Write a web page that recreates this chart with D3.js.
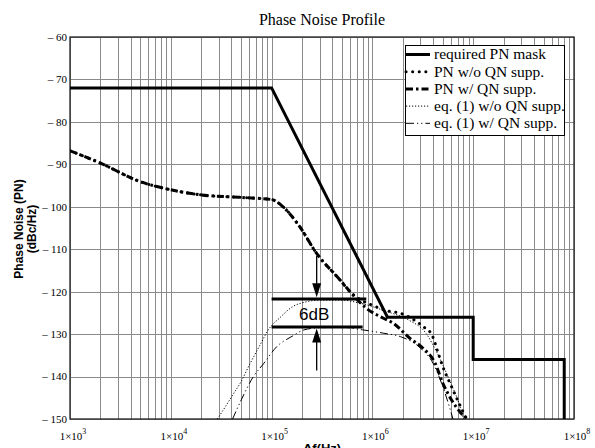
<!DOCTYPE html>
<html>
<head>
<meta charset="utf-8">
<script src="https://cdn.jsdelivr.net/npm/d3@7"></script>
<style>
  body { margin: 0; background: #fff; }
  svg { display: block; }
</style>
</head>
<body>
<div id="chart"></div>
<script>
// data (frequency in Hz, phase noise in dBc/Hz)
const maskF  = [1e3, 1e5, 1.41e6, 1e7, 1e7, 8e7, 8e7];
const maskPN = [-72, -72, -126, -126, -136, -136, -150];

const pnWoF  = [1e3, 2e3, 5e3, 1e4, 2e4, 5e4, 1e5, 1.3e5, 1.9e5, 2.8e5, 4.8e5, 6e5, 7.5e5, 1e6, 1.4e6, 1.9e6, 2.6e6, 3.3e6, 3.9e6, 4.5e6, 5e6, 6.1e6, 7.1e6, 8.6e6];
const pnWoPN = [-86.8, -89.7, -94.1, -96, -97.2, -97.8, -98.3, -100, -104.7, -111, -117.3, -120, -121.8, -123.2, -124.5, -125.1, -126.7, -128.5, -130.2, -134.5, -137.7, -142.4, -145.9, -150];

const pnWF  = [1e3, 2e3, 5e3, 1e4, 2e4, 5e4, 1e5, 1.3e5, 1.9e5, 2.8e5, 4.8e5, 6e5, 8.7e5, 1.27e6, 1.6e6, 2.36e6, 3.2e6, 4.2e6, 5e6, 6.1e6, 7.5e6, 8.8e6];
const pnWPN = [-86.8, -89.7, -94.1, -96, -97.2, -97.8, -98.3, -100, -104.7, -111, -117.3, -120, -123.9, -126.2, -127.4, -131, -133.4, -136.9, -141.6, -145.5, -148.5, -150];

const eqWoF  = [2.9e4, 3.5e4, 4.2e4, 4.9e4, 6.1e4, 7.5e4, 9.6e4, 1.2e5, 1.6e5, 2.2e5, 3e5, 5e5, 7.5e5, 1.4e6, 2.3e6, 3.4e6, 4.4e6, 5.8e6, 7.4e6, 8e6];
const eqWoPN = [-150, -147, -144, -141.5, -137, -133, -128.5, -126.2, -123.6, -122.4, -122, -122, -122.7, -124.7, -126.7, -129.8, -134.5, -140.8, -147.1, -150];

const eqWF  = [4.1e4, 5e4, 6.6e4, 8.3e4, 1.12e5, 1.6e5, 2.1e5, 3e5, 5e5, 8e5, 1.3e6, 1.9e6, 2.9e6, 4e6, 5e6, 5.8e6, 6.3e6];
const eqWPN = [-150, -145.5, -140, -137, -133, -130.5, -129, -128.5, -128.4, -129, -129.8, -130.6, -133, -136.9, -142.4, -147.1, -150];

// 6 dB annotation
const bracketF  = [1e5, 8.7e5, 8e5];     // start, end upper, end lower
const bracketPN = [-121.7, -128.3];
const arrowF = 2.8e5;
const arrowTailPN = [-111.6, -138.6];

const legendLabels = ["required PN mask", "PN w/o QN supp.", "PN w/ QN supp.", "eq. (1) w/o QN supp.", "eq. (1) w/ QN supp."];
const yTicks = [-60, -70, -80, -90, -100, -110, -120, -130, -140, -150];
const xExponents = [3, 4, 5, 6, 7, 8];

function drawChart() {
    const W = 595, H = 448;
    const left = 70, right = 574, top = 37, bottom = 419;
    const serif = "'Liberation Serif', 'Times New Roman', serif";
    const sans = "'Liberation Sans', Arial, sans-serif";

    let svg = d3.select("#chart").append("svg")
        .attr("width", W).attr("height", H);

    let x = d3.scaleLog().domain([1e3, 1e8]).range([left, right]);
    let y = d3.scaleLinear().domain([-150, -60]).range([bottom, top]);

    // grid
    let grid = svg.append("g").attr("stroke", "#8a8a8a").attr("stroke-width", 1);
    let vlines = [];
    for (let e = 3; e < 8; e++) for (let m = 1; m < 10; m++) vlines.push(m * Math.pow(10, e));
    vlines.push(1e8);
    grid.selectAll("line.v").data(vlines).enter().append("line")
        .attr("x1", d => Math.round(x(d)) + 0.5).attr("x2", d => Math.round(x(d)) + 0.5)
        .attr("y1", top).attr("y2", bottom);
    grid.selectAll("line.h").data(yTicks).enter().append("line")
        .attr("y1", d => Math.round(y(d)) + 0.5).attr("y2", d => Math.round(y(d)) + 0.5)
        .attr("x1", left).attr("x2", right);

    svg.append("rect")
        .attr("x", left).attr("y", top)
        .attr("width", right - left).attr("height", bottom - top)
        .attr("fill", "none").attr("stroke", "#222").attr("stroke-width", 1.3);

    // tick labels
    svg.append("g").selectAll("text").data(yTicks).enter().append("text")
        .attr("x", left - 3).attr("y", d => y(d))
        .attr("dy", "0.35em")
        .attr("text-anchor", "end")
        .style("font-family", serif).style("font-size", "11px")
        .text(d => "\u2013 " + Math.abs(d));

    let xl = svg.append("g").selectAll("text").data(xExponents).enter().append("text")
        .attr("x", d => x(Math.pow(10, d)) + 3).attr("y", 440)
        .attr("text-anchor", "middle")
        .style("font-family", serif).style("font-size", "11px");
    xl.append("tspan").text("1\u00d710");
    xl.append("tspan").attr("dy", -6).style("font-size", "8px").text(d => d);

    // titles
    svg.append("text").attr("x", 322).attr("y", 25).attr("text-anchor", "middle")
        .style("font-family", serif).style("font-size", "16px")
        .text("Phase Noise Profile");
    svg.append("text").attr("x", 322).attr("y", 453).attr("text-anchor", "middle")
        .style("font-family", sans).style("font-size", "13px").style("font-weight", "bold")
        .text("\u0394f(Hz)");
    let yl = svg.append("text")
        .attr("transform", "translate(23,229) rotate(-90)")
        .attr("text-anchor", "middle")
        .style("font-family", sans).style("font-size", "12px").style("font-weight", "bold");
    yl.append("tspan").attr("x", 0).attr("y", 0).text("Phase Noise (PN)");
    yl.append("tspan").attr("x", 0).attr("y", 13).text("(dBc/Hz)");

    // clip
    svg.append("clipPath").attr("id", "plotclip").append("rect")
        .attr("x", left).attr("y", top).attr("width", right - left).attr("height", bottom - top);
    let plot = svg.append("g").attr("clip-path", "url(#plotclip)");

    const styles = [
        {w: 3, dash: null, cap: "butt"},
        {w: 3, dash: "0.1,6.5", cap: "round"},
        {w: 3, dash: "7,3,2.5,3", cap: "butt"},
        {w: 1, dash: "1.2,1.8", cap: "butt"},
        {w: 1, dash: "8,3,1.2,3,1.2,3", cap: "butt"}
    ];

    let series = [
        {f: eqWoF, pn: eqWoPN, s: styles[3], curve: d3.curveMonotoneX},
        {f: eqWF, pn: eqWPN, s: styles[4], curve: d3.curveMonotoneX},
        {f: pnWoF, pn: pnWoPN, s: styles[1], curve: d3.curveMonotoneX},
        {f: pnWF, pn: pnWPN, s: styles[2], curve: d3.curveMonotoneX},
        {f: maskF, pn: maskPN, s: styles[0], curve: d3.curveLinear}
    ];

    series.forEach(function (sr) {
        let pts = sr.f.map((f, i) => [f, sr.pn[i]]);
        let line = d3.line().x(d => x(d[0])).y(d => y(d[1])).curve(sr.curve);
        plot.append("path")
            .attr("d", line(pts))
            .attr("fill", "none")
            .attr("stroke", "#000")
            .attr("stroke-width", sr.s.w)
            .attr("stroke-dasharray", sr.s.dash)
            .attr("stroke-linecap", sr.s.cap)
            .attr("stroke-linejoin", "miter");
    });

    // 6dB bracket
    let ann = svg.append("g");
    ann.append("line").attr("x1", x(bracketF[0])).attr("x2", x(bracketF[1]))
        .attr("y1", y(bracketPN[0])).attr("y2", y(bracketPN[0]))
        .attr("stroke", "#000").attr("stroke-width", 3);
    ann.append("line").attr("x1", x(bracketF[0])).attr("x2", x(bracketF[2]))
        .attr("y1", y(bracketPN[1])).attr("y2", y(bracketPN[1]))
        .attr("stroke", "#000").attr("stroke-width", 3);
    let ax = x(arrowF);
    [[arrowTailPN[0], bracketPN[0] + 0.4], [arrowTailPN[1], bracketPN[1] - 0.4]].forEach(function (a) {
        let y0 = y(a[0]), y1 = y(a[1]);
        let dir = y1 > y0 ? 1 : -1;
        ann.append("line").attr("x1", ax).attr("x2", ax).attr("y1", y0).attr("y2", y1 - dir * 10)
            .attr("stroke", "#000").attr("stroke-width", 1.3);
        ann.append("path")
            .attr("d", `M${ax},${y1} L${ax - 4.5},${y1 - dir * 14} L${ax + 4.5},${y1 - dir * 14} Z`)
            .attr("fill", "#000");
    });
    ann.append("text").attr("x", 299).attr("y", 320)
        .style("font-family", sans).style("font-size", "17px")
        .text("6dB");

    // legend
    let lg = svg.append("g");
    lg.append("rect").attr("x", 405.5).attr("y", 45.5).attr("width", 159).attr("height", 90)
        .attr("fill", "#fff").attr("stroke", "#000").attr("stroke-width", 1);
    legendLabels.forEach(function (lab, i) {
        let ly = 54.5 + i * 17.2;
        let s = styles[i];
        lg.append("line").attr("x1", 406).attr("x2", 430).attr("y1", ly).attr("y2", ly)
            .attr("stroke", "#000").attr("stroke-width", s.w)
            .attr("stroke-dasharray", s.dash).attr("stroke-linecap", s.cap);
        lg.append("text").attr("x", 434).attr("y", ly).attr("dy", "0.32em")
            .style("font-family", serif).style("font-size", "15.5px")
            .text(lab);
    });
}
drawChart();
</script>
</body>
</html>
